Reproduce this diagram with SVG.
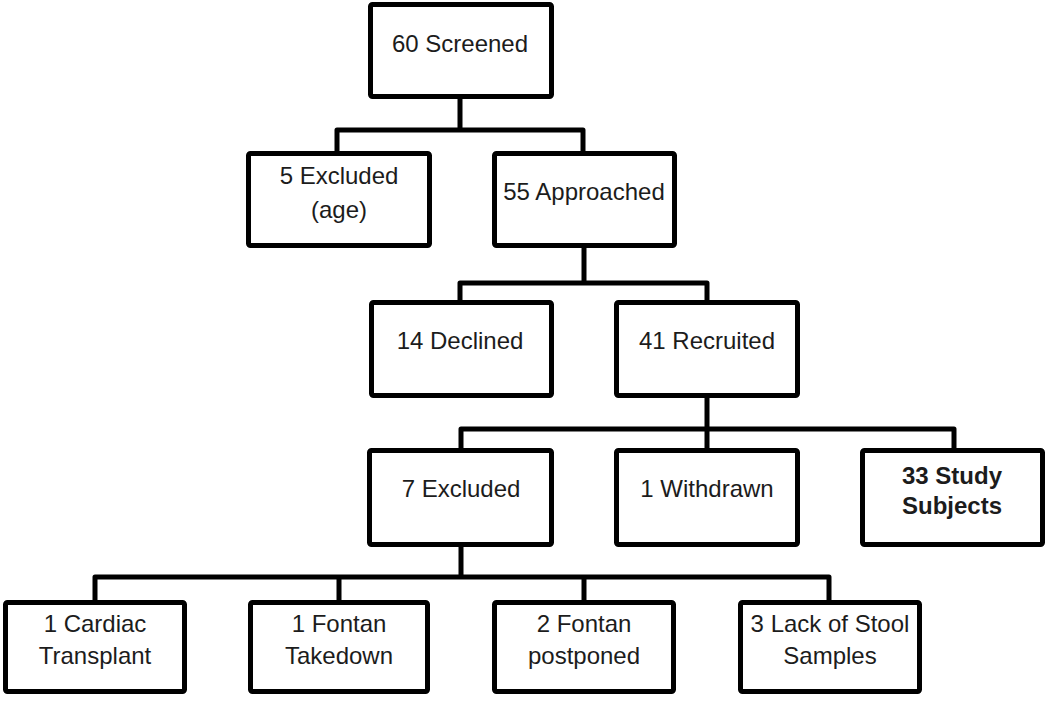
<svg xmlns="http://www.w3.org/2000/svg" width="1050" height="704" viewBox="0 0 1050 704">
<style>
.box{fill:#fff;stroke:#000;stroke-width:5;stroke-linejoin:round}
.ln{fill:none;stroke:#000;stroke-width:5;stroke-linejoin:round;stroke-linecap:square}
text{font-family:"Liberation Sans",Arial,sans-serif;font-size:24px;fill:#1c1c1c;text-anchor:middle}
.b{font-weight:bold}
</style>
<rect width="1050" height="704" fill="#fff"/>
<g id="connectors">
<path class="ln" d="M460,99V130M337,151V130H583V151"/>
<path class="ln" d="M584,248V283M460,300V283H707V300"/>
<path class="ln" d="M707,398V429M461,450V429H954V450M707,429V450"/>
<path class="ln" d="M461,547V577M95,600V577H829V600M339,577V600M584,577V600"/>
</g>
<g id="n1"><rect class="box" x="370.5" y="4.5" width="181" height="92" rx="2"/><text x="460" y="52">60 Screened</text></g>
<g id="n2"><rect class="box" x="248.5" y="153.5" width="181" height="92" rx="2"/><text x="339" y="184">5 Excluded</text><text x="339" y="218">(age)</text></g>
<g id="n3"><rect class="box" x="494.5" y="153.5" width="180" height="92" rx="2"/><text x="584" y="200">55 Approached</text></g>
<g id="n4"><rect class="box" x="371.5" y="302.5" width="180" height="93" rx="2"/><text x="460" y="349">14 Declined</text></g>
<g id="n5"><rect class="box" x="616.5" y="302.5" width="181" height="93" rx="2"/><text x="707" y="349">41 Recruited</text></g>
<g id="n6"><rect class="box" x="369.5" y="450.5" width="182" height="94" rx="2"/><text x="461" y="497">7 Excluded</text></g>
<g id="n7"><rect class="box" x="616.5" y="450.5" width="181" height="94" rx="2"/><text x="707" y="497">1 Withdrawn</text></g>
<g id="n8"><rect class="box" x="862.5" y="450.5" width="180" height="94" rx="2"/><text class="b" x="952" y="484">33 Study</text><text class="b" x="952" y="514">Subjects</text></g>
<g id="n9"><rect class="box" x="5.5" y="602.5" width="179" height="89" rx="2"/><text x="95" y="632">1 Cardiac</text><text x="95" y="664">Transplant</text></g>
<g id="n10"><rect class="box" x="250.5" y="602.5" width="177" height="89" rx="2"/><text x="339" y="632">1 Fontan</text><text x="339" y="664">Takedown</text></g>
<g id="n11"><rect class="box" x="494.5" y="602.5" width="179" height="89" rx="2"/><text x="584" y="632">2 Fontan</text><text x="584" y="664">postponed</text></g>
<g id="n12"><rect class="box" x="740.5" y="602.5" width="179" height="89" rx="2"/><text x="830" y="632">3 Lack of Stool</text><text x="830" y="664">Samples</text></g>
</svg>
